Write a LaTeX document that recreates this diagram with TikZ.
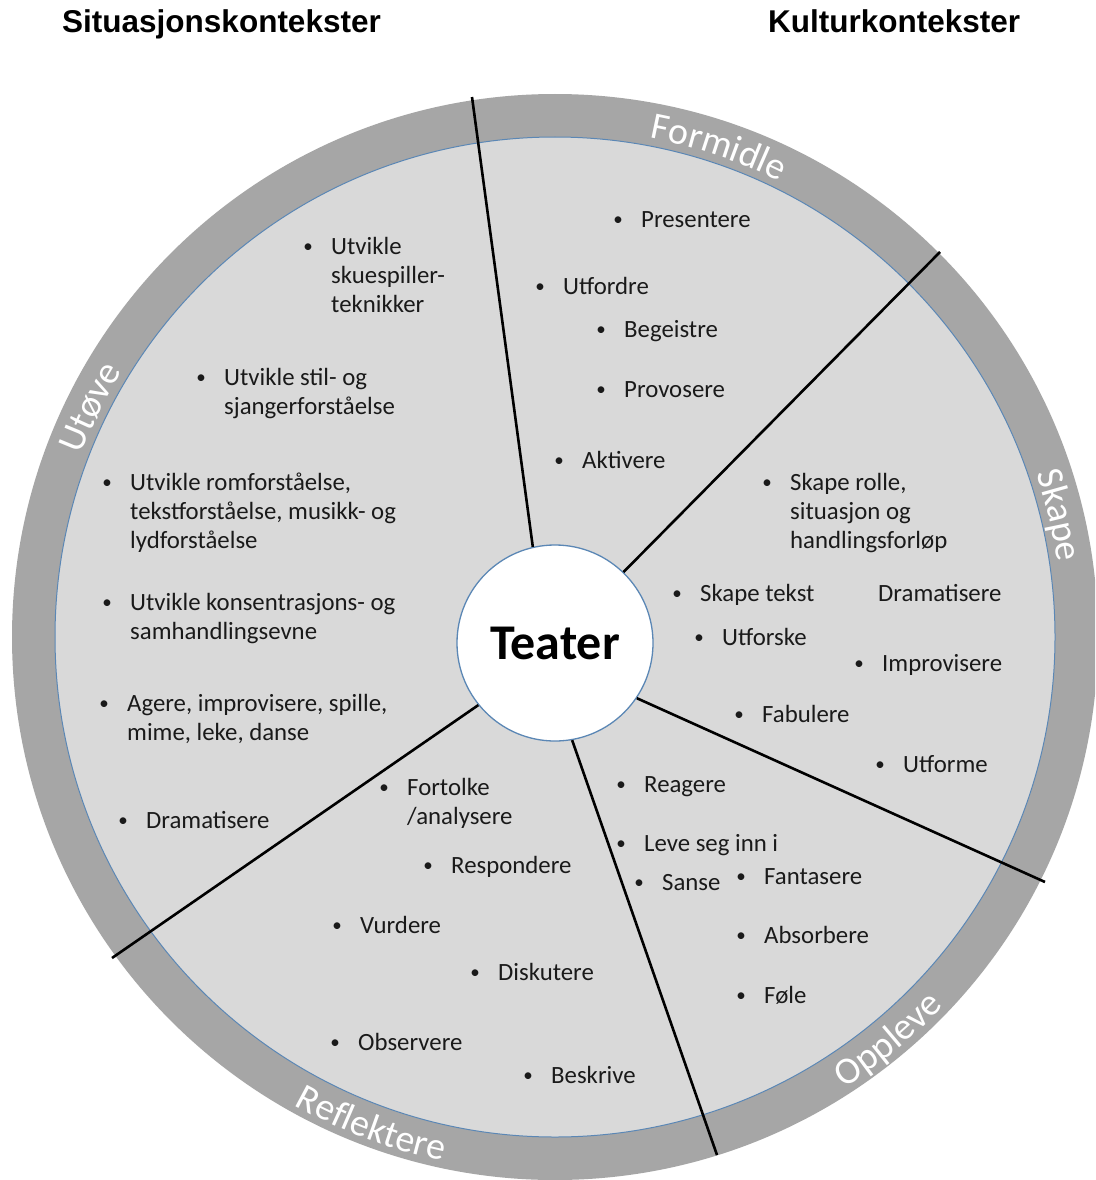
\documentclass[tikz,border=0pt]{standalone}
\usepackage{fontspec}
\setmainfont{Carlito}
\newfontfamily\titlefam{Liberation Sans}
\usetikzlibrary{decorations.text}
\definecolor{ringgray}{HTML}{A6A6A6}
\definecolor{innergray}{HTML}{D9D9D9}
\definecolor{edgeblue}{HTML}{5B87B5}
\definecolor{bodyink}{HTML}{1A1A1A}
\newcommand\bodyfont{\fontsize{24.8}{29.3}\selectfont}
\newcommand\ringfont{\fontsize{38}{40}\selectfont}
\newcommand\smallbul{\raisebox{2pt}{\fontsize{19}{20}\selectfont\textbullet}}
\newcommand\bitem[4]{%
  \node[bulletnode] (#1b) at (#2-23,-#3) {\smallbul};
  \node[itemnode] (#1) at (#2,-#3) {\begin{tabular}[t]{@{}l@{}}#4\end{tabular}};}
\begin{document}
\begin{tikzpicture}[x=1pt,y=1pt,
  itemnode/.style={anchor=base west, inner sep=0pt, font=\bodyfont, text=bodyink},
  bulletnode/.style={anchor=base, inner sep=0pt, font=\bodyfont, text=bodyink},
  titletxt/.style={anchor=base west, inner sep=0pt, font=\titlefam\bfseries\fontsize{31.5}{34}\selectfont},
  divider/.style={line width=2.6pt, black},
  ringlabel/.style={decorate, decoration={text along path, text align=center, text color=white}},
  hub/.style={circle, fill=white, draw=edgeblue, line width=1.3pt, minimum size=196pt, inner sep=0pt,
    font=\bfseries\fontsize{50}{52}\selectfont}]
\useasboundingbox (0,-1180) rectangle (1095,0);
\fill[white] (0,-1180) rectangle (1095,0);
\clip (0,-1180) rectangle (1095,0);

\coordinate (C) at (555,-637);
\fill[ringgray] (C) circle[radius=543];
\filldraw[fill=innergray, draw=edgeblue, line width=1pt] (C) circle[radius=500];

% titles
\node[titletxt] (sit) at (62,-33) {Situasjonskontekster};
\node[titletxt] (kul) at (768,-33) {Kulturkontekster};

% hub
\node[hub] (teater) at (555,-643) {Teater};

% divider end points
\coordinate (o1) at (472,-97);
\coordinate (o2) at (940,-252);
\coordinate (o3) at (1045,-882);
\coordinate (o4) at (717,-1155);
\coordinate (o5) at (112,-958);
\draw[divider] (teater.103) -- (o1);
\draw[divider] (teater.46) -- (o2);
\draw[divider] (teater.-34) -- (o3);
\draw[divider] (teater.-80) -- (o4);
\draw[divider] (teater.219) -- (o5);

% ring labels
\path[ringlabel, decoration={text={|\ringfont|Formidle}}] (C) ++(101.5:508) arc[start angle=101.5, end angle=41.5, radius=508];
\path[ringlabel, decoration={text={|\ringfont|Skape}}] (C) ++(43.6:508) arc[start angle=43.6, end angle=-16.4, radius=508];
\path[ringlabel, decoration={text={|\ringfont|Utøve}}] (C) ++(183.7:508) arc[start angle=183.7, end angle=123.7, radius=508];
\path[ringlabel, decoration={text={|\ringfont|Oppleve}}] (C) ++(-80.4:536) arc[start angle=-80.4, end angle=-20.4, radius=536];
\path[ringlabel, decoration={text={|\ringfont|Reflektere}}] (C) ++(219.4:536) arc[start angle=219.4, end angle=279.4, radius=536];

% Formidle
\bitem{f1}{641}{227}{Presentere}
\bitem{f2}{563}{294}{Utfordre}
\bitem{f3}{624}{337}{Begeistre}
\bitem{f4}{624}{397}{Provosere}
\bitem{f5}{582}{468}{Aktivere}

% Utove
\bitem{u1}{331}{254}{Utvikle\\skuespiller-\\teknikker}
\bitem{u2}{224}{385}{Utvikle stil- og\\sjangerforståelse}
\bitem{u3}{130}{490}{Utvikle romforståelse,\\tekstforståelse, musikk- og\\lydforståelse}
\bitem{u4}{130}{610}{Utvikle konsentrasjons- og\\samhandlingsevne}
\bitem{u5}{127}{711}{Agere, improvisere, spille,\\mime, leke, danse}
\bitem{u6}{146}{828}{Dramatisere}

% Skape
\bitem{s1}{790}{490}{Skape rolle,\\situasjon og\\handlingsforløp}
\bitem{s2}{700}{601}{Skape tekst}
\node[itemnode] (s3) at (878,-601) {Dramatisere};
\bitem{s4}{722}{645}{Utforske}
\bitem{s5}{882}{671}{Improvisere}
\bitem{s6}{762}{722}{Fabulere}
\bitem{s7}{903}{772}{Utforme}

% Oppleve
\bitem{p1}{644}{792}{Reagere}
\bitem{p2}{644}{851}{Leve seg inn i}
\bitem{p3}{662}{890}{Sanse}
\bitem{p4}{764}{884}{Fantasere}
\bitem{p5}{764}{943}{Absorbere}
\bitem{p6}{764}{1003}{Føle}

% Reflektere
\bitem{r1}{407}{795}{Fortolke\\/analysere}
\bitem{r2}{451}{873}{Respondere}
\bitem{r3}{360}{933}{Vurdere}
\bitem{r4}{498}{980}{Diskutere}
\bitem{r5}{358}{1050}{Observere}
\bitem{r6}{551}{1083}{Beskrive}
\end{tikzpicture}
\end{document}
